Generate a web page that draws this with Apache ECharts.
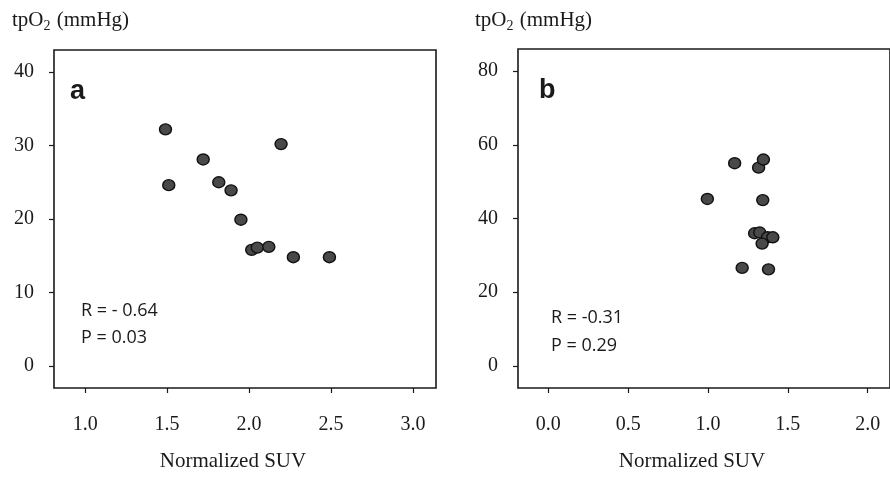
<!DOCTYPE html>
<html lang="en" style="height: 100%">
<head>
  <meta charset="utf-8">
</head>
<body style="height: 100%; margin: 0; background: #fff">
  <div id="container" style="width: 890px; height: 477px"></div>

  <script type="text/javascript" src="https://cdn.jsdelivr.net/npm/echarts@6/dist/echarts.min.js"></script>
  <script type="text/javascript">
    // panel a
    var suvA = [1.49, 1.51, 1.72, 1.815, 1.89, 1.95, 2.016, 2.05, 2.12, 2.195, 2.27, 2.49];
    var po2A = [32.2, 24.6, 28.1, 25.0, 23.9, 19.9, 15.8, 16.1, 16.2, 30.2, 14.8, 14.8];
    // panel b
    var suvB = [0.996, 1.167, 1.317, 1.347, 1.343, 1.292, 1.324, 1.373, 1.406, 1.339, 1.214, 1.379];
    var po2B = [45.3, 55.0, 53.8, 56.0, 45.0, 36.0, 36.2, 34.9, 34.9, 33.2, 26.6, 26.2];

    var xTicksA = [1.0, 1.5, 2.0, 2.5, 3.0];
    var yTicksA = [0, 10, 20, 30, 40];
    var xTicksB = [0.0, 0.5, 1.0, 1.5, 2.0];
    var yTicksB = [0, 20, 40, 60, 80];

    var statsA = ['R = - 0.64', 'P = 0.03'];
    var statsB = ['R = -0.31', 'P = 0.29'];

    var dom = document.getElementById('container');
    var myChart = echarts.init(dom, null, { renderer: 'canvas' });

    var serif = 'Liberation Serif';
    var ink = '#1a1a1a';

    function zip(xs, ys) {
      return xs.map(function (x, i) { return [x, ys[i]]; });
    }

    function xAxis(idx, min, max, ticks) {
      return {
        gridIndex: idx,
        type: 'value',
        min: min,
        max: max,
        name: 'Normalized SUV',
        nameLocation: 'middle',
        nameGap: 63,
        nameTextStyle: { fontFamily: serif, fontSize: 21, color: ink, padding: [0, 24, 0, 0] },
        axisLine: { show: false, onZero: false },
        splitLine: { show: false },
        axisTick: { show: true, length: 5, customValues: ticks, lineStyle: { color: ink, width: 1.2 } },
        axisLabel: {
          customValues: ticks,
          margin: 27,
          fontFamily: serif,
          fontSize: 20,
          color: ink,
          formatter: function (v) { return v.toFixed(1); }
        }
      };
    }

    function yAxis(idx, min, max, ticks) {
      return {
        gridIndex: idx,
        type: 'value',
        min: min,
        max: max,
        axisLine: { show: false, onZero: false },
        splitLine: { show: false },
        axisTick: { show: true, length: 5, customValues: ticks, lineStyle: { color: ink, width: 1.2 } },
        axisLabel: {
          customValues: ticks,
          margin: 20,
          fontFamily: serif,
          fontSize: 20,
          color: ink
        }
      };
    }

    function dots(idx, data) {
      return {
        type: 'scatter',
        xAxisIndex: idx,
        yAxisIndex: idx,
        data: data,
        symbol: 'circle',
        symbolSize: [12, 11],
        itemStyle: { color: '#494949', borderColor: '#111', borderWidth: 1.4, opacity: 1 },
        emphasis: { disabled: true }
      };
    }

    function txt(x, y, s, font) {
      return {
        type: 'text',
        x: x,
        y: y,
        style: { text: s, font: font, fill: ink, textVerticalAlign: 'middle' }
      };
    }

    var sub = {
      m: { fontFamily: serif, fontSize: 21, fontWeight: 'normal', color: ink },
      s: { fontFamily: serif, fontSize: 14, fontWeight: 'normal', color: ink, verticalAlign: 'bottom', padding: [0, 1, -2, 0] }
    };

    var option = {
      animation: false,
      backgroundColor: '#fff',
      title: [
        { text: '{m|tpO}{s|2}{m| (mmHg)}', left: 12, top: 10, padding: 0, textStyle: { fontWeight: 'normal', rich: sub } },
        { text: '{m|tpO}{s|2}{m| (mmHg)}', left: 475, top: 10, padding: 0, textStyle: { fontWeight: 'normal', rich: sub } }
      ],
      grid: [
        { left: 54, top: 50, width: 382, height: 338, show: true, borderColor: ink, borderWidth: 1.6, backgroundColor: 'transparent' },
        { left: 518, top: 49, width: 376, height: 339, show: true, borderColor: ink, borderWidth: 1.6, backgroundColor: 'transparent' }
      ],
      xAxis: [xAxis(0, 0.81, 3.14, xTicksA), xAxis(1, -0.19, 2.14, xTicksB)],
      yAxis: [yAxis(0, -3, 43, yTicksA), yAxis(1, -6, 86, yTicksB)],
      series: [dots(0, zip(suvA, po2A)), dots(1, zip(suvB, po2B))],
      graphic: [
        txt(70, 92, 'a', 'bold 27px "Liberation Sans"'),
        txt(81, 311, statsA[0], '18px "Open Sans"'),
        txt(81, 338, statsA[1], '18px "Open Sans"'),
        txt(539, 91, 'b', 'bold 27px "Liberation Sans"'),
        txt(551, 318, statsB[0], '18px "Open Sans"'),
        txt(551, 346, statsB[1], '18px "Open Sans"')
      ]
    };

    myChart.setOption(option);
    window.addEventListener('resize', myChart.resize);
  </script>
</body>
</html>
